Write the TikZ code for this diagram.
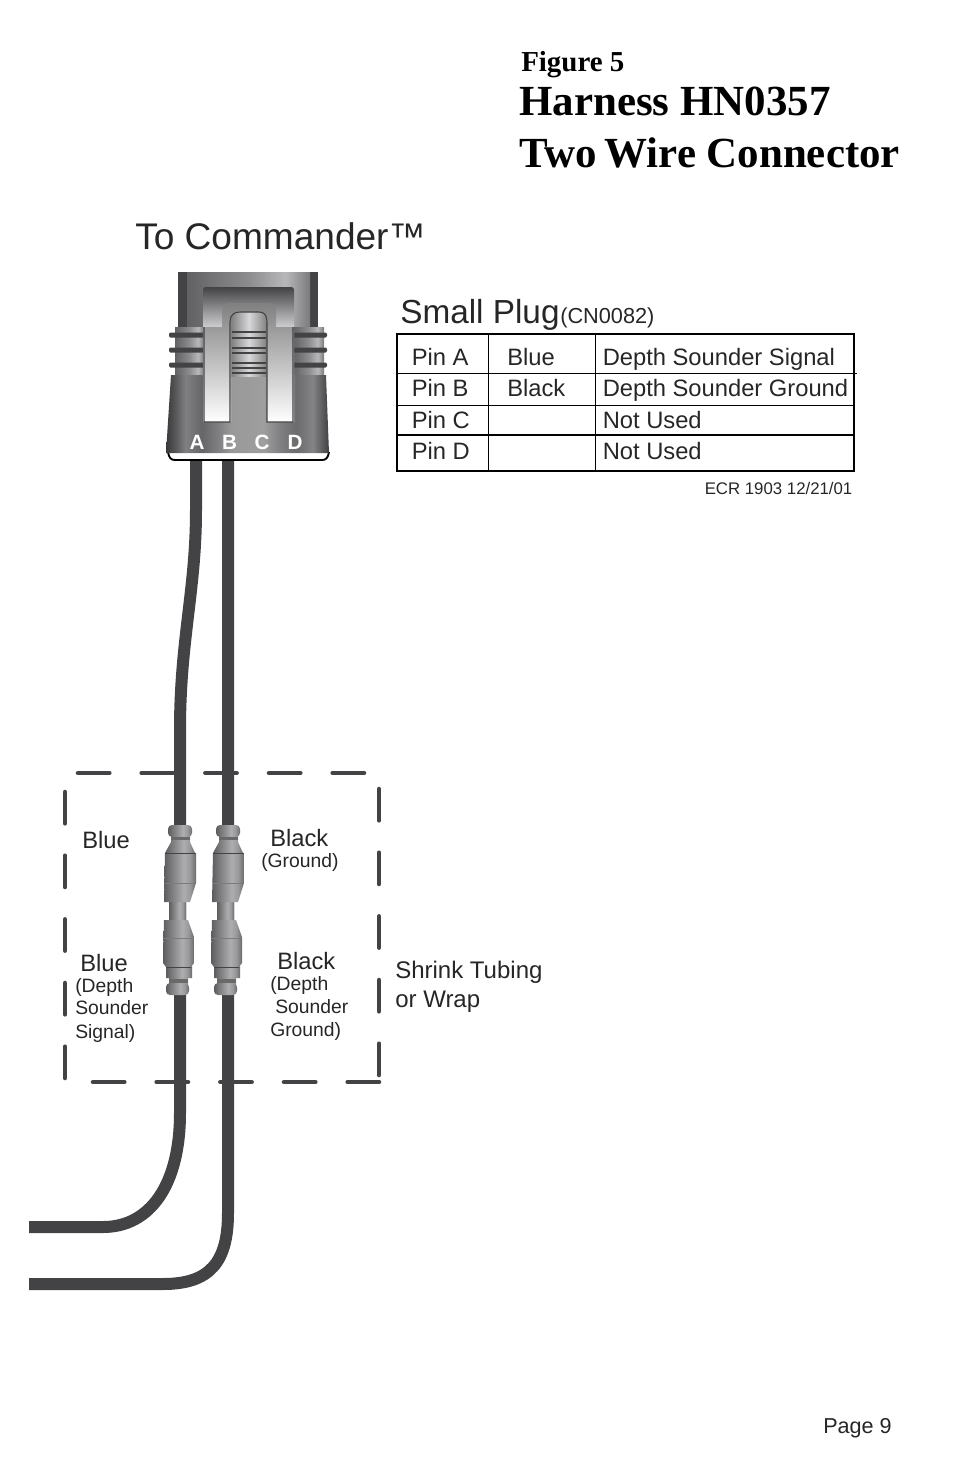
\documentclass[tikz,border=0pt]{standalone}
\usepackage{fontspec}
\setmainfont{Liberation Sans}
\newfontfamily\titlefont{Liberation Serif}
\definecolor{wiregray}{HTML}{434345}
\definecolor{bodygray}{HTML}{77777A}
\definecolor{lightgray}{HTML}{D8D8DA}
\pgfdeclarehorizontalshading{spliceshade}{100bp}{rgb(0bp)=(.36,.36,.37); rgb(25bp)=(.36,.36,.37); rgb(33bp)=(.45,.45,.46); rgb(56bp)=(.68,.68,.69); rgb(66bp)=(.6,.6,.61); rgb(75bp)=(.42,.42,.43); rgb(100bp)=(.42,.42,.43)}
\pgfdeclarehorizontalshading{bodyshade}{100bp}{rgb(0bp)=(.22,.22,.23); rgb(25bp)=(.22,.22,.23); rgb(28bp)=(.35,.35,.36); rgb(31bp)=(.5,.5,.51); rgb(36bp)=(.4,.4,.41); rgb(41bp)=(.5,.5,.51); rgb(45bp)=(.6,.6,.6); rgb(55bp)=(.62,.62,.62); rgb(60bp)=(.5,.5,.51); rgb(65bp)=(.42,.42,.43); rgb(70bp)=(.52,.52,.53); rgb(75bp)=(.25,.25,.26); rgb(100bp)=(.25,.25,.26)}
\pgfdeclarehorizontalshading{blockshade}{100bp}{rgb(0bp)=(.38,.38,.39); rgb(25bp)=(.38,.38,.39); rgb(35bp)=(.45,.45,.46); rgb(50bp)=(.55,.55,.56); rgb(65bp)=(.72,.72,.73); rgb(75bp)=(.48,.48,.49); rgb(100bp)=(.48,.48,.49)}
\tikzset{
    wire/.style={line width=9pt, wiregray},
    dashline/.style={line width=3.4pt, wiregray, line cap=round, dash pattern=on 23.5pt off 24.25pt},
    label/.style={anchor=base west, inner sep=0pt, text=black!85},
    cell/.style={label, font=\fontsize{17.8}{20}\selectfont},
    small/.style={label, font=\fontsize{14.5}{17}\selectfont},
    titletext/.style={label, text=black, font=\titlefont\bfseries\fontsize{32.2}{36}\selectfont},
    pinletter/.style={anchor=base, inner sep=0pt, text=white, font=\bfseries\fontsize{15.5}{14}\selectfont},
}
\begin{document}
\begin{tikzpicture}[x=0.75pt, y=-0.75pt]
    \useasboundingbox (0, 0) rectangle (954, 1475);
    % title
    \node[titletext, font=\titlefont\bfseries\fontsize{21.7}{24}\selectfont] (figname) at(521, 71) {Figure 5};
    \node[titletext] (titleone) at(519, 115) {Harness HN0357};
    \node[titletext] (titletwo) at(519, 167) {Two\kern-2.5pt{} Wire Connector};
    \node[label, font=\fontsize{27.8}{30}\selectfont] (commander) at(135, 249) {To Commander™};
    % wires
    \draw[wire] (196, 455) -- (196, 510) .. controls (196, 590) and (180, 640) .. (180, 730)
        -- (180, 1113) .. controls (180, 1185) and (150, 1227) .. (103, 1227) -- (29, 1227);
    \draw[wire] (228, 455) -- (228, 1213) .. controls (228, 1262) and (210, 1284) .. (163, 1284) -- (29, 1284);
    % plug, top block
    \fill[wiregray] (178, 272) rectangle (318, 330);
    \shade[shading=blockshade] (187, 272) rectangle (310, 330);
    \shade[top color=wiregray, bottom color=lightgray, rounded corners=2pt] (203, 287) rectangle (294, 330);
    % plug, ribs
    \shade[shading=blockshade] (175, 327) rectangle (204, 376);
    \shade[shading=blockshade] (293, 327) rectangle (324, 376);
    % plug, lip
    \draw[line width=1.4pt, fill=white] (168, 452) .. controls (169, 458) and (171, 460) .. (175, 460)
        -- (322, 460) .. controls (326, 460) and (328, 458) .. (329, 452);
    % plug, body
    \shade[shading=bodyshade] (171, 375) -- (326, 375) -- (329, 453) -- (166, 453) -- cycle;
    \shade[left color=gray, right color=gray, middle color=lightgray] (231, 312) rectangle (267, 376);
    \foreach \y in {332, 338, 348, 353, 363, 368, 373} {
        \draw[line width=1pt, wiregray] (232, \y) -- (266, \y);
    }
    \foreach \y in {335, 350, 365} {
        \fill[wiregray, rounded corners=1pt] (169, \y-2.5) rectangle (204, \y+2.5);
        \fill[wiregray, rounded corners=1pt] (293, \y-2.5) rectangle (327, \y+2.5);
    }
    % plug, latch
    \shade[top color=gray, bottom color=white] (203, 327) -- (222, 327) -- (222, 312)
        .. controls (222, 306) and (225, 303) .. (230, 303) -- (268, 303)
        .. controls (273, 303) and (276, 306) .. (276, 312) -- (276, 327) -- (294, 327)
        -- (294, 422) -- (267, 422) -- (267, 322) .. controls (267, 315) and (264, 312) .. (259, 312)
        -- (240, 312) .. controls (234, 312) and (231, 315) .. (231, 322) -- (231, 422) -- (203, 422) -- cycle;
    \draw[line width=0.8pt, wiregray] (204, 327) -- (204, 422) -- (230, 422) -- (230, 322)
        .. controls (230, 315) and (234, 312) .. (240, 312) -- (259, 312)
        .. controls (264, 312) and (267, 315) .. (267, 322) -- (267, 422) -- (293, 422) -- (293, 327);
    \node[pinletter] (pina) at(197, 449) {A};
    \node[pinletter] (pinb) at(229.5, 449) {B};
    \node[pinletter] (pinc) at(262, 449) {C};
    \node[pinletter] (pind) at(295, 449) {D};
    % table
    \node[label, font=\fontsize{25}{28}\selectfont] (smallplug) at(400, 323) {Small Plug};
    \node[label, font=\fontsize{16.3}{18}\selectfont] (partno) at(560, 323) {(CN0082)};
    \draw[line width=1.6pt] (397, 334) rectangle (854, 471);
    \draw[line width=0.7pt] (397, 373) -- (857, 373);
    \draw[line width=0.7pt] (397, 405) -- (854, 405);
    \draw[line width=1.2pt] (397, 435) -- (854, 435);
    \draw[line width=0.7pt] (488, 334) -- (488, 471);
    \draw[line width=0.7pt] (595.5, 334) -- (595.5, 471);
    \node[cell] (pinacell) at(411.5, 365) {Pin A};
    \node[cell] (pinbcell) at(411.5, 396) {Pin B};
    \node[cell] (pinccell) at(411.5, 428) {Pin C};
    \node[cell] (pindcell) at(411.5, 459) {Pin D};
    \node[cell] (bluecell) at(507, 365) {Blue};
    \node[cell] (blackcell) at(507, 396) {Black};
    \node[cell] (signalcell) at(602.5, 365) {Depth Sounder Signal};
    \node[cell] (groundcell) at(602.5, 396) {Depth Sounder Ground};
    \node[cell] (unusedc) at(602.5, 428) {Not Used};
    \node[cell] (unusedd) at(602.5, 459) {Not Used};
    \node[label, font=\fontsize{12.6}{14}\selectfont] (ecr) at(704.5, 494) {ECR 1903 12/21/01};
    % splices
    \foreach \dx in {0, 48} {
        \begin{scope}[shift={(\dx, 0)}]
            \shade[shading=spliceshade] (171, 836) -- (190, 836) -- (190, 842) -- (195, 853) -- (165, 853) -- (171, 842) -- cycle;
            \shade[shading=spliceshade, rounded corners=3pt] (168, 825) rectangle (192, 837);
            \fill[wiregray!80] (171, 837) rectangle (190, 840);
            \shade[shading=spliceshade] (169, 900) rectangle (186, 922);
            \shade[shading=spliceshade] (165, 853) -- (196, 853) -- (196, 883) -- (190, 902) -- (164, 902) -- cycle;
            \draw[wiregray!70, line width=0.4pt] (165, 883) -- (196, 883);
            \draw[wiregray, line width=0.6pt] (165, 853) -- (196, 853);
            \shade[shading=spliceshade] (166, 966) -- (192, 966) -- (192, 978) -- (188, 978) -- (188, 984) -- (169, 984) -- (169, 978) -- (166, 978) -- cycle;
            \shade[shading=spliceshade, rounded corners=3pt] (166, 983) rectangle (189, 995);
            \fill[wiregray!80] (169, 979) rectangle (188, 983);
            \shade[shading=spliceshade] (164, 920) -- (188, 920) -- (194, 937) -- (194, 963) -- (191, 967) -- (166, 967) -- (163, 963) -- cycle;
            \draw[wiregray!70, line width=0.4pt] (163, 938) -- (194, 938);
            \draw[wiregray, line width=0.6pt] (166, 967) -- (191, 967);
        \end{scope}
    }
    % shrink tubing
    \draw[dashline] (78, 773) -- (366, 773);
    \draw[dashline] (93, 1082) -- (381, 1082);
    \draw[dashline] (65, 792) -- (65, 1080);
    \draw[dashline] (379, 789) -- (379, 1077);
    \node[cell] (bluetop) at(82, 848) {Blue};
    \node[cell] (blacktop) at(270, 846) {Black};
    \node[small] (groundtop) at(261, 867) {(Ground)};
    \node[cell] (bluelow) at(80, 971) {Blue};
    \node[cell] (blacklow) at(277, 969) {Black};
    \node[small] (depthleft) at(75, 992) {(Depth};
    \node[small] (sounderleft) at(75, 1014) {Sounder};
    \node[small] (signalleft) at(75, 1038) {Signal)};
    \node[small] (depthright) at(270, 990) {(Depth};
    \node[small] (sounderright) at(275, 1013) {Sounder};
    \node[small] (groundright) at(270, 1036) {Ground)};
    \node[cell, font=\fontsize{18}{20}\selectfont] (shrink) at(395, 978) {Shrink Tubing};
    \node[cell, font=\fontsize{18}{20}\selectfont] (wrap) at(395, 1007) {or Wrap};
    \node[label, font=\fontsize{16.2}{18}\selectfont] (page) at(823, 1433) {Page 9};
\end{tikzpicture}
\end{document}
